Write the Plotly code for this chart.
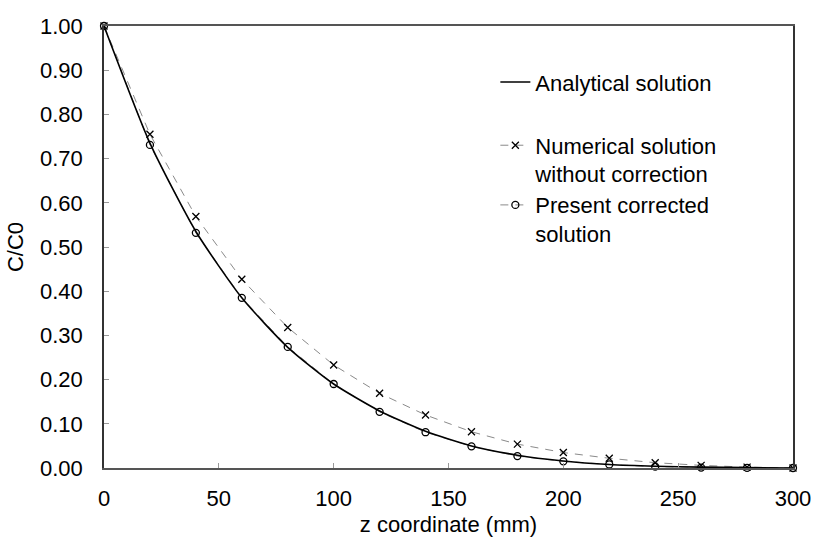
import plotly.graph_objects as go

z = [0, 20, 40, 60, 80, 100, 120, 140, 160, 180, 200, 220, 240, 260, 280, 300]
analytical = [1.0, 0.735, 0.535, 0.385, 0.273, 0.190, 0.129, 0.083, 0.050, 0.029, 0.016, 0.008, 0.004, 0.002, 0.001, 0.0]
numerical = [1.0, 0.755, 0.569, 0.427, 0.318, 0.233, 0.169, 0.120, 0.082, 0.054, 0.035, 0.022, 0.012, 0.006, 0.002, 0.0]
corrected = [1.0, 0.731, 0.532, 0.385, 0.274, 0.190, 0.127, 0.081, 0.049, 0.027, 0.015, 0.008, 0.003, 0.001, 0.0005, 0.0]

FONT = "Arial, Liberation Sans, sans-serif"
FS = 22

fig = go.Figure()
fig.add_trace(go.Scatter(
    x=z, y=numerical, name="Numerical solution<br>without correction",
    mode="lines+markers", legend="legend2",
    line=dict(color="#8a8a8a", width=1, dash="8px,7px"),
    marker=dict(symbol="x-thin", size=7, color="black", line=dict(color="black", width=1.3)),
    cliponaxis=False,
))
fig.add_trace(go.Scatter(
    x=z, y=corrected, name="Present corrected<br>solution",
    mode="lines+markers", legend="legend3",
    line=dict(color="#8a8a8a", width=1, dash="8px,7px"),
    marker=dict(symbol="circle-open", size=7, color="black", line=dict(color="black", width=1.3)),
    cliponaxis=False,
))
fig.add_trace(go.Scatter(
    x=z, y=analytical, name="Analytical solution",
    mode="lines", legend="legend",
    line=dict(color="black", width=1.6, shape="spline", smoothing=0.6),
    cliponaxis=False,
))

def leg(y):
    return dict(
        x=0.568, y=y, xanchor="left", yanchor="middle", valign="top",
        font=dict(family=FONT, size=FS, color="black"),
        bgcolor="rgba(0,0,0,0)",
    )

fig.update_layout(
    width=817, height=541,
    margin=dict(l=104, r=24, t=26, b=73, autoexpand=False),
    paper_bgcolor="white", plot_bgcolor="white",
    font=dict(family=FONT, size=FS, color="black"),
    showlegend=True,
    legend=leg(0.873),
    legend2=leg(0.697),
    legend3=leg(0.562),
    xaxis=dict(
        range=[0, 300], dtick=50, tick0=0, automargin=False,
        showgrid=False, zeroline=False,
        showline=True, linecolor="#555", linewidth=1.5, mirror=True,
        ticks="inside", ticklen=5, tickcolor="#999", tickwidth=1,
        tickfont=dict(family=FONT, size=FS),
        ticklabelstandoff=10,
        title=dict(text="z coordinate (mm)", font=dict(family=FONT, size=FS), standoff=6),
    ),
    yaxis=dict(
        range=[0, 1.0], dtick=0.1, tick0=0, tickformat=".2f", automargin=False,
        showgrid=False, zeroline=False,
        showline=True, linecolor="#333", linewidth=1.5, mirror=True,
        ticks="inside", ticklen=5, tickcolor="#999", tickwidth=1,
        tickfont=dict(family=FONT, size=FS),
        ticklabelstandoff=15,
        title=dict(text="C/C0", font=dict(family=FONT, size=FS), standoff=10),
    ),
)

fig.write_html("out.html")
